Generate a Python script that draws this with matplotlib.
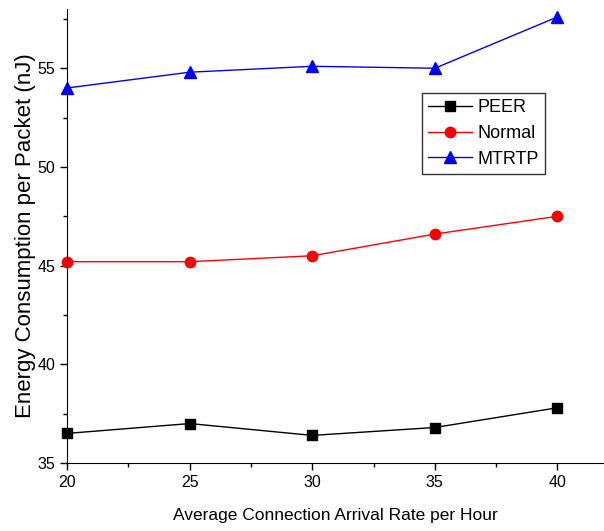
import numpy as np
import matplotlib
matplotlib.use('Agg')
import matplotlib.pyplot as plt
from matplotlib.ticker import MultipleLocator

plt.rcParams['font.family'] = ['Liberation Sans', 'DejaVu Sans']

rate = [20, 25, 30, 35, 40]
peer = [36.5, 37.0, 36.4, 36.8, 37.8]
normal = [45.2, 45.2, 45.5, 46.6, 47.5]
mtrtp = [54.0, 54.8, 55.1, 55.0, 57.6]

fig = plt.figure(figsize=(6.04, 5.31), dpi=100)
ax = fig.add_axes([0.111, 0.128, 0.889, 0.855])

ax.plot(rate, peer, color='black', marker='s', markersize=7, linewidth=1, label='PEER', clip_on=False)
ax.plot(rate, normal, color='red', marker='o', markersize=7.5, linewidth=1, label='Normal', clip_on=False)
ax.plot(rate, mtrtp, color='blue', marker='^', markersize=8.5, linewidth=1, label='MTRTP', clip_on=False)

ax.set_xlim(20, 41.9)
ax.set_ylim(35, 58)
ax.xaxis.set_major_locator(MultipleLocator(5))
ax.xaxis.set_minor_locator(MultipleLocator(2.5))
ax.yaxis.set_major_locator(MultipleLocator(5))
ax.yaxis.set_minor_locator(MultipleLocator(2.5))
ax.tick_params(which='major', direction='out', length=5, width=1, labelsize=11.5)
ax.tick_params(which='minor', direction='out', length=3, width=1)
ax.spines['top'].set_visible(False)
ax.spines['right'].set_visible(False)
ax.set_xticks([20, 25, 30, 35, 40])

ax.set_xlabel('Average Connection Arrival Rate per Hour', fontsize=12.5, labelpad=13)
ax.set_ylabel('Energy Consumption per Packet (nJ)', fontsize=16, labelpad=1)

leg = ax.legend(loc='lower left', bbox_to_anchor=(0.661, 0.637), fontsize=13,
                fancybox=False, edgecolor='#333333', framealpha=1,
                handlelength=2.4, handletextpad=0.3, borderpad=0.35,
                labelspacing=0.48, borderaxespad=0)
leg.get_frame().set_linewidth(1)

fig.savefig('out.png', dpi=100)
